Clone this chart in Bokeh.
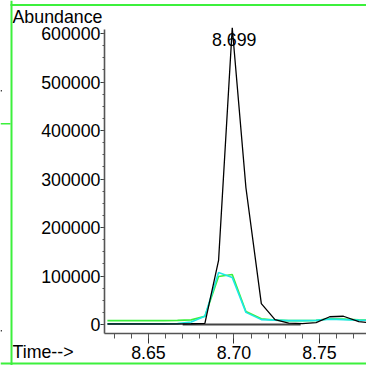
from bokeh.plotting import figure
from bokeh.models import (Range1d, SingleIntervalTicker, PrintfTickFormatter,
                          Label, BoxAnnotation, ColumnDataSource)
from bokeh.core.properties import value
from bokeh.embed import file_html
from bokeh.resources import INLINE

# ---- data ----
times = [8.626, 8.634, 8.642, 8.650, 8.659, 8.667, 8.675, 8.683, 8.691, 8.699,
         8.707, 8.716, 8.724, 8.732, 8.740, 8.748, 8.756, 8.764, 8.773, 8.781]
black_abund = [1000, 1000, 1000, 1000, 1000, 1000, 1500, 2500, 132000, 612000,
               282000, 43000, 10000, 3000, 2000, 4000, 16000, 17000, 6000, 3000]
green_abund = [8000, 8000, 8000, 8000, 8000, 8500, 9500, 17000, 99000, 103000,
               27000, 12000, 9000, 8000, 8000, 8500, 12000, 11000, 9500, 9000]
cyan_abund = [1500, 1500, 1500, 1500, 1500, 2000, 5000, 17000, 107000, 97000,
              25000, 10000, 9000, 8000, 8000, 8500, 11000, 10000, 9000, 8500]
baseline_t = [8.670, 8.739]
baseline_v = [0, 0]
peak_time = 8.699
peak_label = "8.699"
peak_label_y = 587000
y_title = "Abundance"
x_title = "Time-->"
x_ticks_interval = 0.05
y_ticks_interval = 100000
# axis extents (data)
x_start, x_end = 8.6243, 8.7775
y_start, y_end = -18560, 608300

W, H = 366, 365
AL, AR, AT, AB = 104, 366, 29, 333   # axis box edges in pixels

FONT = "Liberation Sans"
FS = "17.8px"
GREEN = "#3cf03c"
CYAN = "#1ee6e6"


def dx(px):
    return x_start + (px - AL) * (x_end - x_start) / (AR - AL)


def dy(py):
    return y_start + (AB - py) * (y_end - y_start) / (AB - AT)


p = figure(width=W, height=H, output_backend="svg", toolbar_location=None,
           x_range=Range1d(dx(0), dx(W)), y_range=Range1d(dy(H), dy(0)),
           min_border=0)
p.outline_line_color = None
p.xgrid.visible = False
p.ygrid.visible = False
p.background_fill_color = "white"
p.border_fill_color = "white"

for ax in (p.xaxis[0], p.yaxis[0]):
    ax.axis_line_color = "#555555"
    ax.axis_line_width = 1.6
    ax.major_tick_line_color = "#333333"
    ax.minor_tick_line_color = "#555555"
    ax.major_label_text_font = FONT
    ax.major_label_text_font_size = FS
    ax.major_label_text_color = "black"

xa = p.xaxis[0]
xa.fixed_location = y_start
xa.bounds = (x_start, x_end)
xa.ticker = SingleIntervalTicker(interval=x_ticks_interval, num_minor_ticks=5)
xa.formatter = PrintfTickFormatter(format="%.2f")
xa.major_tick_out = 10
xa.major_tick_in = 0
xa.minor_tick_out = 5
xa.minor_tick_in = 0
xa.major_label_standoff = 2

ya = p.yaxis[0]
ya.fixed_location = x_start
ya.bounds = (y_start, y_end)
ya.ticker = SingleIntervalTicker(interval=y_ticks_interval, num_minor_ticks=4)
ya.formatter = PrintfTickFormatter(format="%d")
ya.major_tick_out = 4
ya.major_tick_in = 0
ya.minor_tick_out = 2
ya.minor_tick_in = 0
ya.major_label_standoff = 0

src = ColumnDataSource(dict(t=times, k=black_abund, g=green_abund, c=cyan_abund))
p.line("t", "g", source=src, line_color=GREEN, line_width=1.6)
p.line("t", "c", source=src, line_color=CYAN, line_width=1.6)
p.line(baseline_t, baseline_v, line_color="#444444", line_width=2)
p.text(x=[peak_time], y=[peak_label_y], text=[peak_label], text_align="center",
       text_baseline="alphabetic", x_offset=2, text_font=value(FONT),
       text_font_size=FS, text_color="black")
p.line("t", "k", source=src, line_color="black", line_width=1.3)

# texts outside the axis box
p.add_layout(Label(x=dx(12), y=dy(16), text=y_title,
                   text_font=FONT, text_font_size=FS, text_baseline="alphabetic",
                   text_color="black"))
p.add_layout(Label(x=dx(12), y=dy(351), text=x_title,
                   text_font=FONT, text_font_size=FS, text_baseline="alphabetic",
                   text_color="black"))


# green frame lines and stray marks from neighbouring panels
def box(l, r, t, b, color):
    p.add_layout(BoxAnnotation(left=dx(l), right=dx(r), top=dy(t), bottom=dy(b),
                               fill_color=color, fill_alpha=1, line_alpha=0,
                               level="overlay"))


box(10, 12, 0, 365, GREEN)      # left
box(0, 366, 362, 364, GREEN)    # bottom
box(10, 366, 3.5, 5.5, GREEN)   # top
box(0, 10, 122.5, 124, GREEN)   # stub
box(0, 1.5, 89.5, 91, "#444444")
box(0, 1.5, 329.5, 331, "#444444")

open("out.html", "w").write(file_html(p, INLINE))
